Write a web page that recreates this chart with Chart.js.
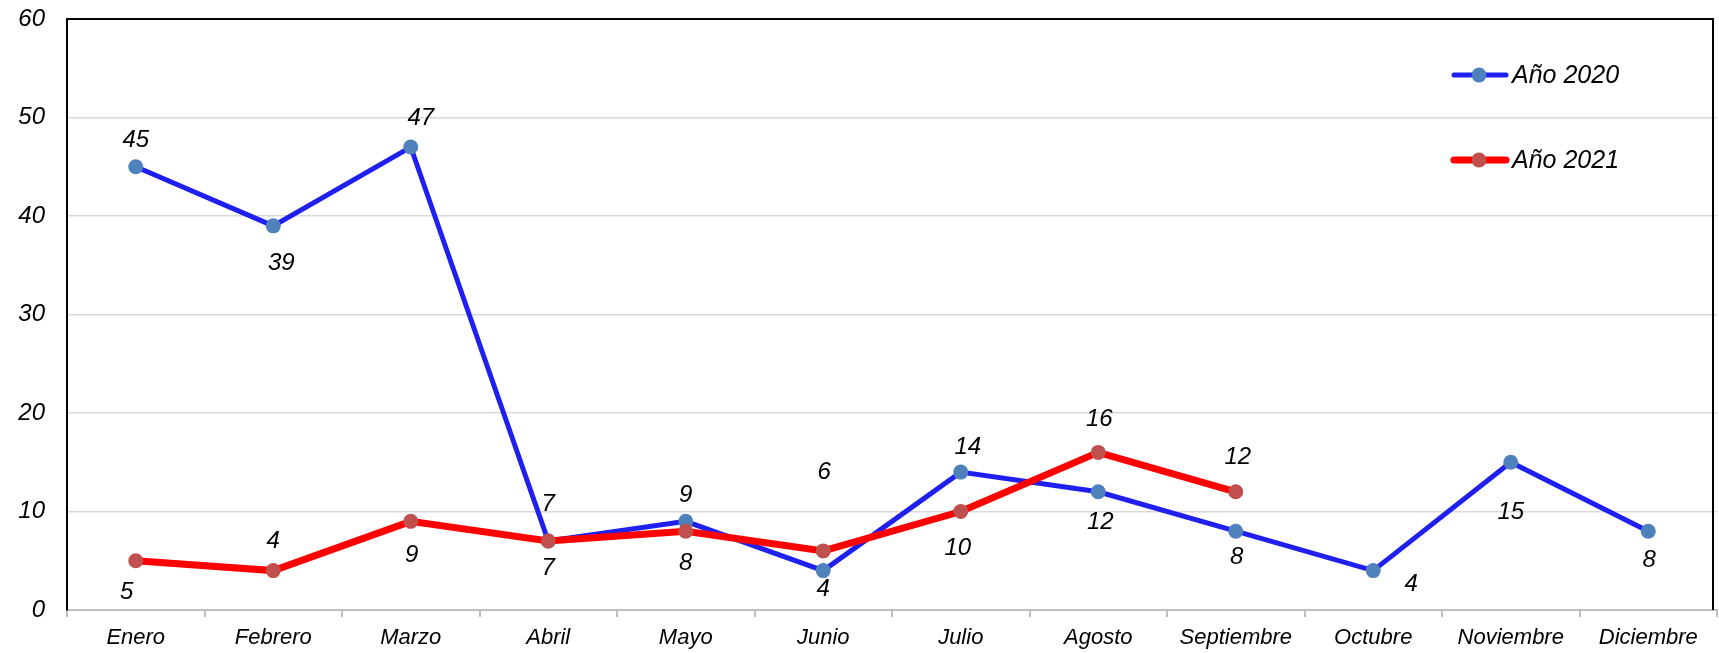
<!DOCTYPE html>
<html><head><meta charset="utf-8">
<script src="https://cdn.jsdelivr.net/npm/chart.js@4.4.0/dist/chart.umd.min.js"></script>
<style>html,body{margin:0;padding:0;background:#fff;}#wrap{width:1719px;height:653px;}</style>
</head><body><div id="wrap"><canvas id="c" width="1719" height="653"></canvas></div>
<script>
const categories = ['Enero','Febrero','Marzo','Abril','Mayo','Junio','Julio','Agosto','Septiembre','Octubre','Noviembre','Diciembre'];
const values2020 = [45,39,47,7,9,4,14,12,8,4,15,8];
const values2021 = [5,4,9,7,8,6,10,16,12,null,null,null];
const yTicks = [0,10,20,30,40,50,60];
const seriesNames = ['Año 2020','Año 2021'];

// label offsets (style only)
const off2020 = [[0,-26],[8,37],[10,-29],[0,-37],[0,-26],[0,19],[7,-25],[2,31],[1,26],[38,14],[0,50],[1,29]];
const off2021 = [[-9,32],[0,-29],[1,34],[0,27],[0,32],[1,-79],[-3,37],[1,-33],[2,-34],[0,0],[0,0],[0,0]];
const offsets = [off2020, off2021];
const FAM = '"Liberation Sans", Arial, sans-serif';

const plugin = {
  id: 'extras',
  afterDraw(chart) {
    const ctx = chart.ctx, a = chart.chartArea;
    ctx.save();
    ctx.strokeStyle = '#000'; ctx.lineWidth = 2;
    ctx.beginPath();
    ctx.moveTo(a.left, a.bottom); ctx.lineTo(a.left, a.top); ctx.lineTo(a.right - 4, a.top); ctx.lineTo(a.right - 4, a.bottom);
    ctx.stroke();
    ctx.font = 'italic 24px ' + FAM; ctx.fillStyle = '#000'; ctx.textAlign = 'center'; ctx.textBaseline = 'middle';
    chart.data.datasets.forEach((ds, di) => {
      const meta = chart.getDatasetMeta(di);
      meta.data.forEach((pt, i) => {
        const v = ds.data[i];
        if (v === null || v === undefined) return;
        const o = offsets[di][i];
        ctx.fillText(String(v), pt.x + o[0], pt.y + o[1]);
      });
    });
    const ly = [75, 160];
    chart.data.datasets.forEach((ds, di) => {
      const y = ly[di];
      ctx.strokeStyle = ds.borderColor; ctx.lineWidth = ds.borderWidth; ctx.lineCap = 'round';
      ctx.beginPath(); ctx.moveTo(1454, y); ctx.lineTo(1506, y); ctx.stroke();
      ctx.fillStyle = ds.pointBackgroundColor;
      ctx.beginPath(); ctx.arc(1479, y, 7.5, 0, Math.PI*2); ctx.fill();
      ctx.fillStyle = '#000'; ctx.textAlign = 'left'; ctx.font = 'italic 25px ' + FAM;
      ctx.fillText(ds.label, 1512, y + 1);
    });
    ctx.restore();
  }
};

new Chart(document.getElementById('c'), {
  type: 'line',
  data: {
    labels: categories,
    datasets: [
      { label: seriesNames[0], data: values2020, borderColor: '#1f1fef', borderWidth: 5, pointBackgroundColor: '#4f81bd', pointBorderColor: '#4f81bd', pointRadius: 7.5, pointBorderWidth: 0, tension: 0, spanGaps: false, order: 2 },
      { label: seriesNames[1], data: values2021, borderColor: '#ff0000', borderWidth: 7, pointBackgroundColor: '#c0504d', pointBorderColor: '#c0504d', pointRadius: 7.5, pointBorderWidth: 0, tension: 0, spanGaps: false, order: 1 }
    ]
  },
  options: {
    responsive: false, animation: false,
    layout: { autoPadding: false, padding: { top: 19, right: 2, left: 0, bottom: 0 } },
    plugins: { legend: { display: false }, tooltip: { enabled: false } },
    scales: {
      x: {
        offset: true,
        grid: { offset: true, drawOnChartArea: false, color: '#bfbfbf', tickLength: 7, lineWidth: 2 },
        border: { color: '#bfbfbf', width: 2 },
        ticks: { color: '#000', font: { family: FAM, style: 'italic', size: 22 }, padding: 8, maxRotation: 0, autoSkip: false },
        afterFit(s) { s.height = 43; s.paddingLeft = 0; s.paddingRight = 0; }
      },
      y: {
        min: 0, max: 60,
        afterBuildTicks(s) { s.ticks = yTicks.map(v => ({ value: v })); },
        grid: { color: (c) => (c.tick && (c.tick.value === 0 || c.tick.value === 60)) ? 'rgba(0,0,0,0)' : '#d9d9d9', lineWidth: 1.5, drawTicks: false },
        border: { color: '#000', width: 2 },
        ticks: { color: '#000', font: { family: FAM, style: 'italic', size: 24 }, padding: 22 },
        afterFit(s) { s.width = 67; s.paddingTop = 0; s.paddingBottom = 0; }
      }
    }
  },
  plugins: [plugin]
});
</script>
</body></html>
